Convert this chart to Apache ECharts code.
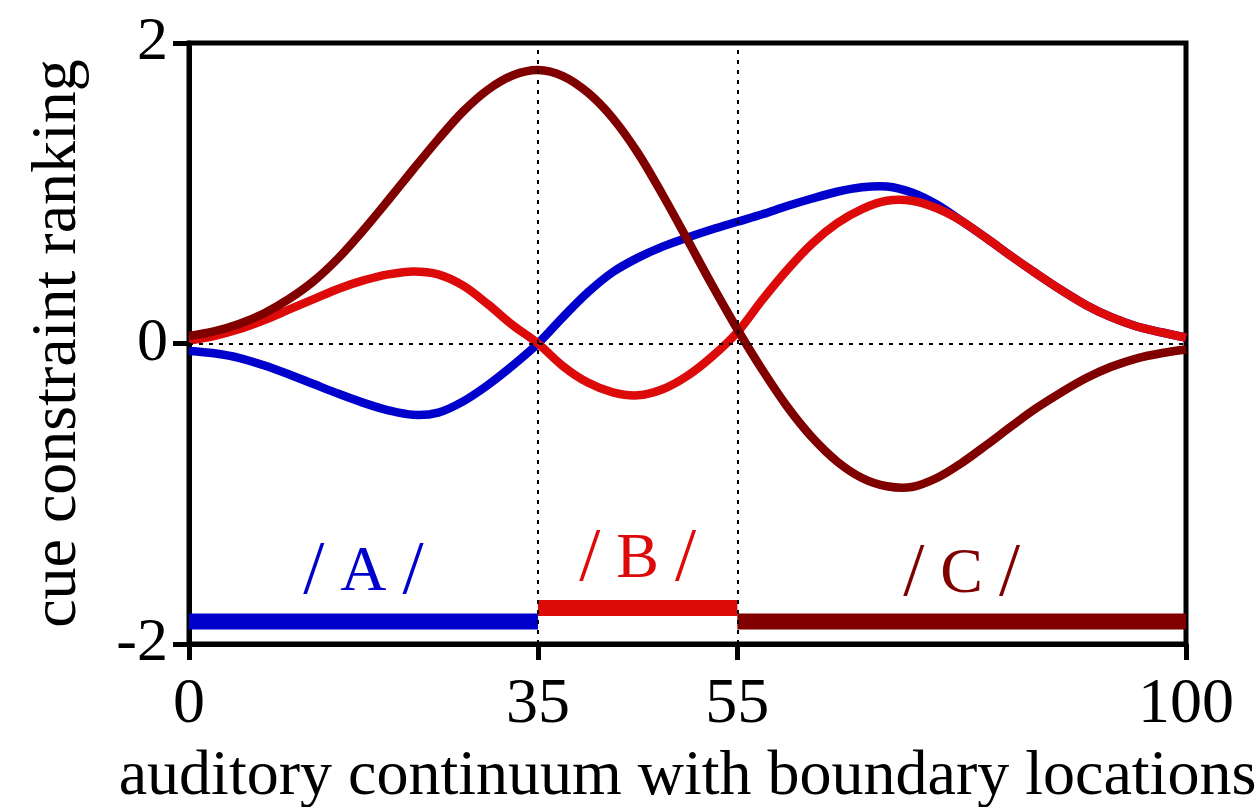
<!DOCTYPE html>
<html>
<head>
<meta charset="utf-8">
<script src="https://cdn.jsdelivr.net/npm/echarts@6/dist/echarts.min.js"></script>
<style>
	html, body { margin: 0; padding: 0; background: #fff; }
	#main { width: 1257px; height: 807px; }
</style>
</head>
<body>
<div id="main"></div>
<script>
// positions along the continuum
var xs = [0, 2.5, 5, 7.5, 10, 12.5, 15, 17.5, 20, 22.5, 25, 27.5, 30, 32.5, 35, 37.5, 40, 42.5, 45, 47.5,
	50, 52.5, 55, 57.5, 60, 62.5, 65, 67.5, 70, 72.5, 75, 77.5, 80, 82.5, 85, 87.5, 90, 92.5, 95, 97.5, 100];

var blueVals = [-0.05, -0.065, -0.095, -0.145, -0.205, -0.27, -0.335, -0.395, -0.445, -0.475, -0.46, -0.385, -0.275, -0.145, 0.0, 0.175, 0.34, 0.475, 0.57, 0.645,
	0.705, 0.76, 0.81, 0.86, 0.915, 0.965, 1.01, 1.04, 1.045, 1.005, 0.925, 0.815, 0.70, 0.58, 0.465, 0.355, 0.255, 0.175, 0.115, 0.075, 0.04];

var redVals = [0.02, 0.05, 0.095, 0.155, 0.225, 0.295, 0.365, 0.42, 0.46, 0.48, 0.46, 0.385, 0.26, 0.12, 0.0, -0.15, -0.26, -0.325, -0.345, -0.305,
	-0.215, -0.085, 0.075, 0.29, 0.49, 0.665, 0.80, 0.895, 0.95, 0.95, 0.90, 0.815, 0.70, 0.58, 0.465, 0.355, 0.255, 0.175, 0.115, 0.075, 0.04];

var darkVals = [0.05, 0.08, 0.13, 0.20, 0.295, 0.415, 0.57, 0.755, 0.955, 1.16, 1.36, 1.545, 1.69, 1.785, 1.82, 1.78, 1.67, 1.50, 1.27, 0.99,
	0.69, 0.385, 0.095, -0.175, -0.42, -0.625, -0.785, -0.895, -0.95, -0.955, -0.895, -0.795, -0.675, -0.55, -0.43, -0.325, -0.23, -0.155, -0.10, -0.065, -0.04];

// category ranges on the continuum
var categories = ['A', 'B', 'C'];
var catStart = [0, 35, 55];
var catEnd = [35, 55, 100];
var catLevel = [-1.85, -1.76, -1.85];
var catLabelY = [-1.53, -1.44, -1.54];

var xTicks = [0, 35, 55, 100];
var boundaries = [35, 55];

var colors = ['#0000cc', '#dd0a0a', '#800000'];
var font = '"Liberation Serif", "Times New Roman", serif';

var myChart = echarts.init(document.getElementById('main'));

function pairs(vals) {
	var out = [];
	xs.forEach(function(x, i) {
		out.push([x, vals[i]]);
	});
	return out;
}

// one smooth polyline per curve, points mapped through the grid
function curve(vals, color, z) {
	var data = pairs(vals);
	return {
		type: 'custom',
		data: data,
		silent: true,
		z: z,
		renderItem: function(params, api) {
			if (params.dataIndex !== 0) {
				return null;
			}
			var pts = data.map(function(d) {
				return api.coord(d);
			});
			return {
				type: 'polyline',
				shape: { points: pts, smooth: 0.33 },
				style: { stroke: color, lineWidth: 8.5, fill: 'none' }
			};
		}
	};
}

var series = [
	curve(blueVals, colors[0], 2),
	curve(redVals, colors[1], 3),
	curve(darkVals, colors[2], 4)
];

categories.forEach(function(c, i) {
	var mid = (catStart[i] + catEnd[i]) / 2;
	series.push({
		type: 'line',
		data: [[catStart[i], catLevel[i]], [catEnd[i], catLevel[i]]],
		showSymbol: false,
		silent: true,
		z: 2,
		lineStyle: { color: colors[i], width: 16, cap: 'butt' },
		emphasis: { disabled: true },
		markPoint: {
			symbol: 'circle',
			symbolSize: 0,
			silent: true,
			label: {
				show: true,
				position: 'inside',
				formatter: '{s|/}{c| ' + c + ' }{s|/}',
				color: colors[i],
				fontFamily: font,
				rich: {
					s: { fontSize: 76, fontFamily: font, color: colors[i] },
					c: { fontSize: 64, fontFamily: font, color: colors[i] }
				}
			},
			data: [{ coord: [mid, catLabelY[i]] }]
		}
	});
});

// dotted guides
var guides = boundaries.map(function(b) { return { xAxis: b }; });
guides.push({ yAxis: 0 });
series.push({
	type: 'line',
	data: [],
	z: 10,
	markLine: {
		silent: true,
		symbol: ['none', 'none'],
		label: { show: false },
		lineStyle: { color: '#000', type: [4, 6], width: 2 },
		data: guides
	}
});

var option = {
	animation: false,
	backgroundColor: '#fff',
	grid: {
		left: 189,
		right: 71,
		top: 43,
		bottom: 163,
		outerBoundsMode: 'none',
		show: true,
		borderColor: '#000',
		borderWidth: 5,
		backgroundColor: 'transparent'
	},
	xAxis: {
		type: 'value',
		min: 0,
		max: 100,
		name: 'auditory continuum with boundary locations',
		nameLocation: 'middle',
		nameGap: 101,
		nameTextStyle: { color: '#000', fontSize: 64, fontFamily: font },
		axisLine: { show: true, onZero: false, lineStyle: { color: '#000', width: 5 } },
		axisTick: { show: true, inside: false, length: 16, lineStyle: { color: '#000', width: 5 }, customValues: xTicks },
		axisLabel: { color: '#000', fontSize: 64, fontFamily: font, margin: 29, customValues: xTicks },
		splitLine: { show: false }
	},
	yAxis: {
		type: 'value',
		min: -2,
		max: 2,
		interval: 2,
		name: 'cue constraint ranking',
		nameLocation: 'middle',
		nameGap: 99,
		nameTextStyle: { color: '#000', fontSize: 64, fontFamily: font },
		axisLine: { show: true, onZero: false, lineStyle: { color: '#000', width: 5 } },
		axisTick: { show: true, inside: false, length: 16, lineStyle: { color: '#000', width: 5 } },
		axisLabel: { color: '#000', fontSize: 62, fontFamily: font, margin: 21 },
		splitLine: { show: false }
	},
	series: series
};

myChart.setOption(option);
</script>
</body>
</html>
